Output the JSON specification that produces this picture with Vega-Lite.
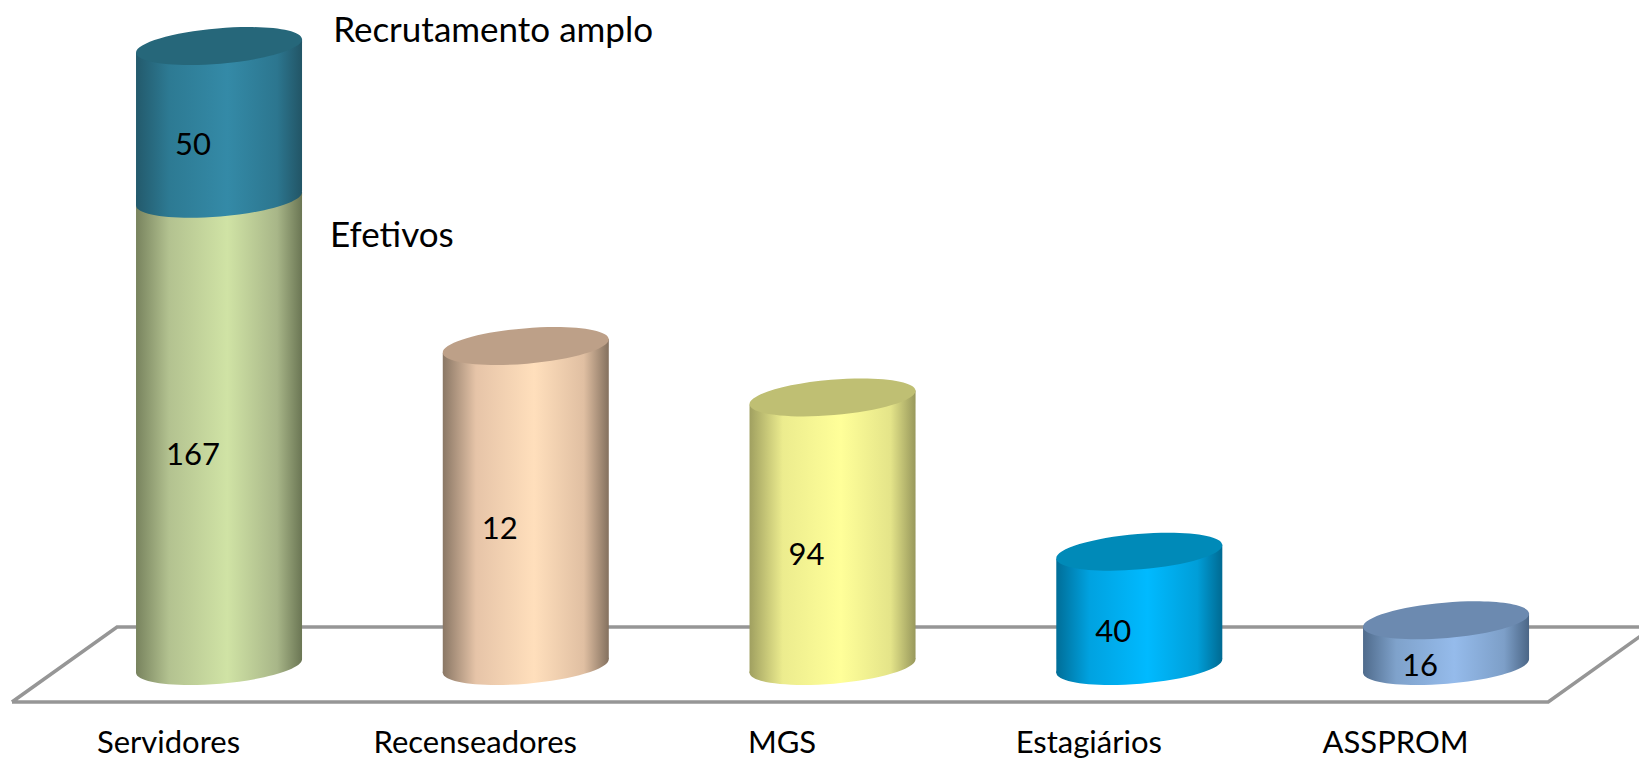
{
"$schema":"https://vega.github.io/schema/vega-lite/v6.json",
"width":1639,"height":720,"autosize":{"type":"none"},"padding":{"left":0,"top":0,"right":0,"bottom":41},"background":"white",
"config":{"view":{"stroke":null},"font":"Lato"},
"datasets":{
"bars":[
{"cat":"Servidores","i":0,"series":"Efetivos","start":0,"end":163.5,"label":"167"},
{"cat":"Servidores","i":0,"series":"Recrutamento amplo","start":163.5,"end":217,"label":"50"},
{"cat":"Recenseadores","i":1,"series":"Recenseadores","start":0,"end":112,"label":"12"},
{"cat":"MGS","i":2,"series":"MGS","start":0,"end":94,"label":"94"},
{"cat":"Estagiários","i":3,"series":"Estagiários","start":0,"end":40,"label":"40"},
{"cat":"ASSPROM","i":4,"series":"ASSPROM","start":0,"end":16,"label":"16"}
],
"floor":[
{"o":0,"x":-0.675,"y":-12.6},{"o":1,"x":-0.3325,"y":13.65},{"o":2,"x":4.675,"y":13.65},{"o":3,"x":4.333,"y":-12.6},{"o":4,"x":-0.675,"y":-12.6}
],
"notes":[
{"x":0.372,"y":222.2,"text":"Recrutamento amplo"},
{"x":0.362,"y":150.4,"text":"Efetivos"}
]},
"layer":[
{"data":{"name":"floor"},"mark":{"type":"line","color":"#969696","strokeWidth":3.5,"clip":true,"strokeJoin":"miter"},
 "encoding":{"x":{"field":"x","type":"quantitative","scale":{"domain":[-0.714,4.629],"nice":false,"zero":false},
   "axis":{"values":[0,1,2,3,4],"title":null,"grid":false,"domain":false,"ticks":false,"labelOffset":-51,"labelPadding":8,"labelFontSize":31,"labelLimit":0,"labelColor":"black","labelFont":"Lato","labelOverlap":false,"labelBound":false,"labelFlush":false,
     "labelExpr":"['Servidores','Recenseadores','MGS','Estagiários','ASSPROM'][datum.value]"}},
  "y":{"field":"y","type":"quantitative","scale":{"domain":[-18.9,233.1],"nice":false,"zero":false},"axis":null},
  "order":{"field":"o"}}},
{"data":{"name":"bars"},"transform":[{"filter":"datum.start==0"}],
 "mark":{"type":"point","filled":true,"opacity":1,"size":27556,"shape":"M -1 0.084 A 1.003 0.213 -4.8 1 1 1 -0.084 A 1.003 0.213 -4.8 1 1 -1 0.084 Z"},
 "encoding":{"x":{"field":"i","type":"quantitative"},"y":{"field":"start","type":"quantitative"},
  "color":{"condition":[
   {"test":"datum.series=='Efetivos'","value":{"gradient":"linear","x1":0,"x2":1,"y1":0,"y2":0,"stops":[{"offset":0,"color":"#78835e"},{"offset":0.2,"color":"#b3c290"},{"offset":0.55,"color":"#d0e3a5"},{"offset":0.85,"color":"#a8b688"},{"offset":1,"color":"#6b7654"}]}},
   {"test":"datum.series=='Recenseadores'","value":{"gradient":"linear","x1":0,"x2":1,"y1":0,"y2":0,"stops":[{"offset":0,"color":"#8a7765"},{"offset":0.2,"color":"#e6c4a8"},{"offset":0.55,"color":"#ffdfbc"},{"offset":0.85,"color":"#e0bfa2"},{"offset":1,"color":"#84715f"}]}},
   {"test":"datum.series=='MGS'","value":{"gradient":"linear","x1":0,"x2":1,"y1":0,"y2":0,"stops":[{"offset":0,"color":"#a0a060"},{"offset":0.2,"color":"#ecec8e"},{"offset":0.55,"color":"#ffff99"},{"offset":0.85,"color":"#e4e489"},{"offset":1,"color":"#98985c"}]}},
   {"test":"datum.series=='Estagiários'","value":{"gradient":"linear","x1":0,"x2":1,"y1":0,"y2":0,"stops":[{"offset":0,"color":"#006e98"},{"offset":0.2,"color":"#00a2e0"},{"offset":0.55,"color":"#00baff"},{"offset":0.85,"color":"#009ed8"},{"offset":1,"color":"#006a92"}]}}
  ],"value":{"gradient":"linear","x1":0,"x2":1,"y1":0,"y2":0,"stops":[{"offset":0,"color":"#4f6b8c"},{"offset":0.2,"color":"#7fa2cb"},{"offset":0.55,"color":"#95bbeb"},{"offset":0.85,"color":"#7d9fc8"},{"offset":1,"color":"#4b6686"}]}}}},
{"data":{"name":"bars"},"transform":[
  {"calculate":"[-1,1]","as":"edge"},{"flatten":["edge"]},
  {"calculate":"datum.i+datum.edge*0.2706","as":"xe"},
  {"calculate":"datum.end+datum.edge*2.45","as":"yt"},
  {"calculate":"datum.start+datum.edge*2.45","as":"yb"}],
 "mark":{"type":"area","opacity":1,"line":false,"orient":"vertical"},
 "encoding":{"x":{"field":"xe","type":"quantitative"},"y":{"field":"yt","type":"quantitative"},"y2":{"field":"yb"},"detail":{"field":"series"},
  "color":{"condition":[
   {"test":"datum.series=='Efetivos'","value":{"gradient":"linear","x1":0,"x2":1,"y1":0,"y2":0,"stops":[{"offset":0,"color":"#78835e"},{"offset":0.2,"color":"#b3c290"},{"offset":0.55,"color":"#d0e3a5"},{"offset":0.85,"color":"#a8b688"},{"offset":1,"color":"#6b7654"}]}},
   {"test":"datum.series=='Recrutamento amplo'","value":{"gradient":"linear","x1":0,"x2":1,"y1":0,"y2":0,"stops":[{"offset":0,"color":"#235a6c"},{"offset":0.2,"color":"#2d7a93"},{"offset":0.55,"color":"#348aa7"},{"offset":0.85,"color":"#2c768f"},{"offset":1,"color":"#225566"}]}},
   {"test":"datum.series=='Recenseadores'","value":{"gradient":"linear","x1":0,"x2":1,"y1":0,"y2":0,"stops":[{"offset":0,"color":"#8a7765"},{"offset":0.2,"color":"#e6c4a8"},{"offset":0.55,"color":"#ffdfbc"},{"offset":0.85,"color":"#e0bfa2"},{"offset":1,"color":"#84715f"}]}},
   {"test":"datum.series=='MGS'","value":{"gradient":"linear","x1":0,"x2":1,"y1":0,"y2":0,"stops":[{"offset":0,"color":"#a0a060"},{"offset":0.2,"color":"#ecec8e"},{"offset":0.55,"color":"#ffff99"},{"offset":0.85,"color":"#e4e489"},{"offset":1,"color":"#98985c"}]}},
   {"test":"datum.series=='Estagiários'","value":{"gradient":"linear","x1":0,"x2":1,"y1":0,"y2":0,"stops":[{"offset":0,"color":"#006e98"},{"offset":0.2,"color":"#00a2e0"},{"offset":0.55,"color":"#00baff"},{"offset":0.85,"color":"#009ed8"},{"offset":1,"color":"#006a92"}]}}
  ],"value":{"gradient":"linear","x1":0,"x2":1,"y1":0,"y2":0,"stops":[{"offset":0,"color":"#4f6b8c"},{"offset":0.2,"color":"#7fa2cb"},{"offset":0.55,"color":"#95bbeb"},{"offset":0.85,"color":"#7d9fc8"},{"offset":1,"color":"#4b6686"}]}}}},
{"data":{"name":"bars"},"transform":[{"filter":"datum.start>0"}],
 "mark":{"type":"point","filled":true,"opacity":1,"size":27556,"shape":"M -1 0.084 A 1.003 0.213 -4.8 1 1 1 -0.084 A 1.003 0.213 -4.8 1 1 -1 0.084 Z",
  "color":{"gradient":"linear","x1":0,"x2":1,"y1":0,"y2":0,"stops":[{"offset":0,"color":"#235a6c"},{"offset":0.2,"color":"#2d7a93"},{"offset":0.55,"color":"#348aa7"},{"offset":0.85,"color":"#2c768f"},{"offset":1,"color":"#225566"}]}},
 "encoding":{"x":{"field":"i","type":"quantitative"},"y":{"field":"start","type":"quantitative"}}},
{"data":{"name":"bars"},"transform":[{"filter":"datum.series!='Efetivos'"}],
 "mark":{"type":"point","filled":true,"opacity":1,"size":27556,"shape":"M -1 0.084 A 1.003 0.213 -4.8 1 1 1 -0.084 A 1.003 0.213 -4.8 1 1 -1 0.084 Z"},
 "encoding":{"x":{"field":"i","type":"quantitative"},"y":{"field":"end","type":"quantitative"},
  "color":{"field":"series","type":"nominal","legend":null,"scale":{"domain":["Recrutamento amplo","Recenseadores","MGS","Estagiários","ASSPROM"],"range":["#26677a","#bda088","#bfbf73","#008ab8","#6c8ab0"]}}}},
{"data":{"name":"bars"},"transform":[{"calculate":"(datum.start+datum.end)/2","as":"mid"}],
 "mark":{"type":"text","dx":-26,"dy":24,"fontSize":31,"color":"black","font":"Lato"},
 "encoding":{"x":{"field":"i","type":"quantitative"},"y":{"field":"mid","type":"quantitative"},"text":{"field":"label"}}},
{"data":{"name":"notes"},"mark":{"type":"text","align":"left","fontSize":35,"color":"black","font":"Lato"},
 "encoding":{"x":{"field":"x","type":"quantitative"},"y":{"field":"y","type":"quantitative"},"text":{"field":"text"}}}
]
}
